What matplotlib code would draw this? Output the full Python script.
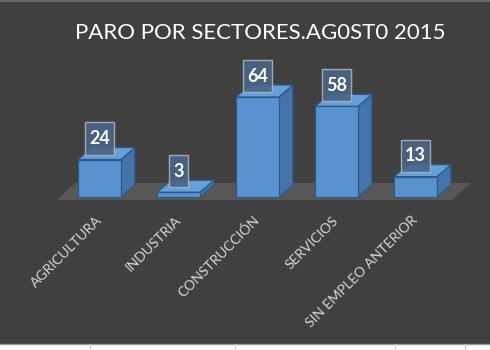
import matplotlib
matplotlib.use("Agg")
import matplotlib.pyplot as plt
from matplotlib.patches import Polygon, Rectangle
from matplotlib.lines import Line2D
from matplotlib.path import Path

categories = ["AGRICULTURA", "INDUSTRIA", "CONSTRUCCIÓN", "SERVICIOS", "SIN EMPLEO ANTERIOR"]
values = [24, 3, 64, 58, 13]
title = "PARO POR SECTORES.AG0ST0 2015"

BG = "#404040"
FRONT = "#5892cf"
SIDE = "#4373aa"
TOP = "#679fd8"
EDGE = "#2c5a8a"

fig = plt.figure(figsize=(4.9, 3.5), dpi=100, facecolor=BG)
ax = fig.add_axes([0, 0, 1, 1])
ax.set_facecolor(BG)
PX_X = 79.0
PX_Y = 1.5625
ax.set_xlim(-99.5 / PX_X, (490 - 99.5) / PX_X)
ax.set_ylim((197 - 350) / PX_Y, 197 / PX_Y)
ax.axis("off")

def px(xp, yp):
    return ((xp - 99.5) / PX_X, (197 - yp) / PX_Y)

def tallbox(x0, y0, width, height, mutation_size):
    padx = 0.22 * mutation_size
    pady = 0.42 * mutation_size
    x0 -= padx; y0 -= pady
    x1 = x0 + width + 2 * padx
    y1 = y0 + height + 2 * pady
    return Path([(x0, y0), (x1, y0), (x1, y1), (x0, y1), (x0, y0)], closed=True)

floor = Polygon([px(57, 200), px(452, 200), px(471, 183), px(75, 183)],
                closed=True, facecolor="#575757", edgecolor="none", zorder=1)
ax.add_patch(floor)

w = 0.54
dx = 14 / PX_X
dy = 12 / PX_Y
xs = list(range(len(categories)))
ax.bar(xs, values, width=w, color=FRONT, edgecolor=EDGE, linewidth=0.9, zorder=3)
for x, v in zip(xs, values):
    r = x + w / 2
    l = x - w / 2
    side = Polygon([(r, 0), (r + dx, dy), (r + dx, v + dy), (r, v)], closed=True,
                   facecolor=SIDE, edgecolor=EDGE, linewidth=0.9, zorder=2.5)
    top = Polygon([(l, v), (r, v), (r + dx, v + dy), (l + dx, v + dy)], closed=True,
                  facecolor=TOP, edgecolor=EDGE, linewidth=0.9, zorder=2.6)
    ax.add_patch(side)
    ax.add_patch(top)
    ax.text(x, v + 21 / PX_Y, str(v), ha="center", va="center", color="white",
            fontsize=13, fontweight="bold", family="Lato", zorder=5,
            bbox=dict(boxstyle=tallbox, facecolor="#4a6585", alpha=0.9,
                      edgecolor="#a9b3bd", linewidth=1.0))

for x, c in zip(xs, categories):
    ax.text(x + 3 / PX_X, (197 - 221) / PX_Y, c, rotation=45, rotation_mode="anchor",
            ha="right", va="baseline", color="#d6d6d6", fontsize=10, family="Lato", zorder=4)

fig.text(260 / 490, 1 - 33 / 350, title, ha="center", va="center", color="white",
         fontsize=16, family="Lato")

fig.patches.append(Rectangle((0, 0), 1, 6 / 350, transform=fig.transFigure,
                             facecolor="white", edgecolor="none", zorder=10))
fig.lines.append(Line2D([0, 1], [6 / 350, 6 / 350], transform=fig.transFigure,
                        color="#9a9a9a", linewidth=1, zorder=11))
for xp in [90, 235, 395, 465]:
    fig.lines.append(Line2D([xp / 490, xp / 490], [0, 6 / 350], transform=fig.transFigure,
                            color="#cfcfcf", linewidth=0.8, zorder=11))
fig.lines.append(Line2D([0, 1], [1 - 0.5 / 350, 1 - 0.5 / 350], transform=fig.transFigure,
                        color="#6e6e6e", linewidth=1.2, zorder=11))

fig.savefig("out.png", dpi=100, facecolor=BG)
